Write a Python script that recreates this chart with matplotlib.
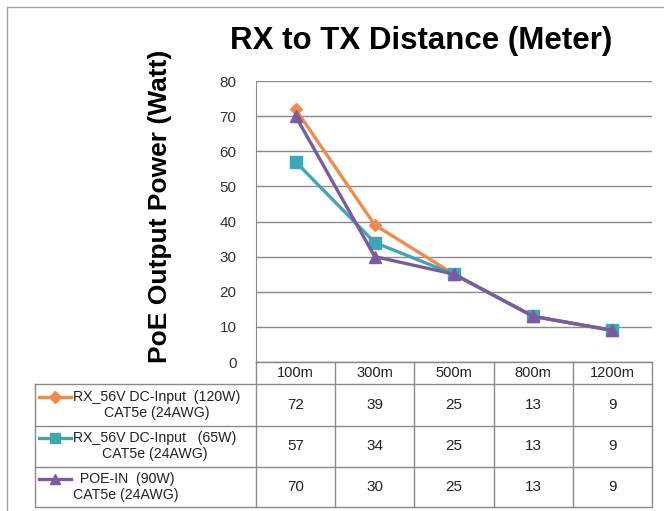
import matplotlib
matplotlib.use("Agg")
import matplotlib.pyplot as plt
from matplotlib.lines import Line2D
from matplotlib.transforms import blended_transform_factory

plt.rcParams['font.family'] = ['Liberation Sans', 'DejaVu Sans']

# =========================
# DATA
# =========================
distances = ["100m", "300m", "500m", "800m", "1200m"]
series_labels = [
    "RX_56V DC-Input  (120W)\nCAT5e (24AWG)",
    "RX_56V DC-Input   (65W)\nCAT5e (24AWG)",
    " POE-IN  (90W)\nCAT5e (24AWG)",
]
dc_120w = [72, 39, 25, 13, 9]
dc_65w = [57, 34, 25, 13, 9]
poe_in_90w = [70, 30, 25, 13, 9]
y_ticks = [0, 10, 20, 30, 40, 50, 60, 70, 80]

series = [dc_120w, dc_65w, poe_in_90w]
colors = ["#F28A4B", "#3FA6B8", "#7A5C9E"]
markers = ["D", "s", "^"]
msizes = [6.5, 8, 9]

# =========================
# FIGURE
# =========================
W, H = 664, 511
fig = plt.figure(figsize=(W / 100, H / 100), dpi=100)


def fx(x):
    return x / W


def fy(y):
    return 1 - y / H


ax = fig.add_axes([fx(256), fy(362), fx(652) - fx(256), fy(81) - fy(362)])
xs = list(range(len(distances)))

for vals, c, m, ms in zip(series, colors, markers, msizes):
    ax.plot(xs, vals, color=c, lw=2.4, marker=m, ms=ms,
            markerfacecolor=c, markeredgecolor=c)

ax.set_xlim(-0.5, len(distances) - 0.5)
ax.set_ylim(0, 80)
ax.set_yticks(y_ticks)
ax.set_xticks([])
ax.yaxis.grid(True, color="#8a8a8a", lw=1.0)
ax.set_axisbelow(True)
for s in ["top", "right"]:
    ax.spines[s].set_visible(False)
ax.spines["left"].set_color("#8a8a8a")
ax.spines["bottom"].set_color("#8a8a8a")
ax.tick_params(axis="y", length=0, pad=14, labelsize=11, labelcolor="#333333")

fig.text(fx(421), fy(41), "RX to TX Distance (Meter)", fontsize=22.5,
         fontweight="bold", ha="center", va="center")
fig.text(fx(160), fy(206), "PoE Output Power (Watt)", fontsize=19,
         fontweight="bold", ha="center", va="center", rotation=90)

# =========================
# DATA TABLE
# =========================
gray = "#8a8a8a"
tr = blended_transform_factory(ax.transData, fig.transFigure)
row_edges = [362, 384, 425.5, 466.5, 507]
table_left = 35


def hline(x0, x1, y):
    fig.add_artist(Line2D([fx(x0), fx(x1)], [fy(y), fy(y)], color=gray, lw=1.0))


def vline(x, y0, y1, transform=None):
    if transform is None:
        fig.add_artist(Line2D([fx(x), fx(x)], [fy(y0), fy(y1)], color=gray, lw=1.0))
    else:
        fig.add_artist(Line2D([x, x], [fy(y0), fy(y1)], color=gray, lw=1.0,
                              transform=transform))


# horizontal lines
hline(256, 652, row_edges[0])
for y in row_edges[1:]:
    hline(table_left, 652, y)
# vertical lines
vline(table_left, row_edges[1], row_edges[-1])
for i in range(len(distances) + 1):
    vline(i - 0.5, row_edges[0], row_edges[-1], transform=tr)

# header
for i, d in enumerate(distances):
    fig.text(i, fy((row_edges[0] + row_edges[1]) / 2), d, transform=tr,
             ha="center", va="center", fontsize=10.5, color="#222222")

# rows
for r, (vals, lab, c, m) in enumerate(zip(series, series_labels, colors, markers)):
    yc = (row_edges[r + 1] + row_edges[r + 2]) / 2
    for i, v in enumerate(vals):
        fig.text(i, fy(yc), str(v), transform=tr, ha="center", va="center",
                 fontsize=11, color="#222222")
    fig.text(fx(73), fy(yc), lab, ha="left", va="center", multialignment="center",
             fontsize=10.2, color="#222222", linespacing=1.2)
    ky = yc - 8
    fig.add_artist(Line2D([fx(39), fx(71)], [fy(ky), fy(ky)], color=c, lw=2.4))
    fig.add_artist(Line2D([fx(55)], [fy(ky)], color=c, marker=m, ms=6.5,
                          markeredgecolor=c))

# outer chart border (left + top)
fig.add_artist(Line2D([fx(7), fx(7), fx(664)], [fy(511), fy(7), fy(7)],
                      color="#a0a0a0", lw=1.0))

fig.savefig("out.png", dpi=100)
